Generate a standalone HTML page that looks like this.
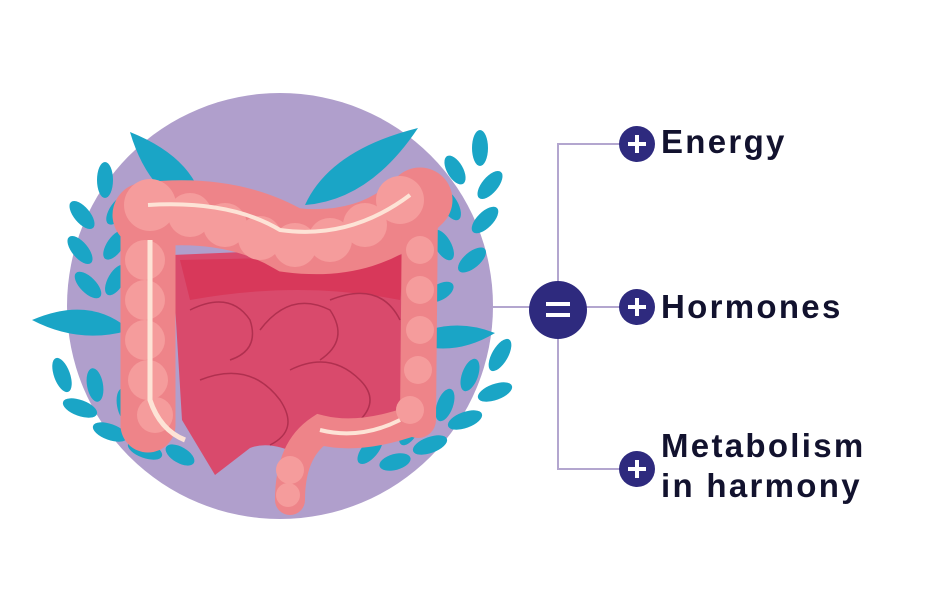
<!DOCTYPE html>
<html><head><meta charset="utf-8"><style>
html,body{margin:0;padding:0;background:#fff;}
body{width:952px;height:613px;position:relative;overflow:hidden;font-family:"Liberation Sans",sans-serif;}
.t{position:absolute;left:661px;font-weight:bold;font-size:33px;color:#12122e;letter-spacing:2.3px;line-height:40px;}
</style></head><body>
<svg width="952" height="613" style="position:absolute;left:0;top:0">
<circle cx="280" cy="306" r="213" fill="#b09fcc"/>
<g stroke="#b3a6cf" stroke-width="2" fill="none">
<line x1="493" y1="307" x2="558" y2="307"/>
<polyline points="637,144 558,144 558,469 637,469"/>
<line x1="558" y1="307" x2="637" y2="307"/>
</g>
<circle cx="558" cy="310" r="29" fill="#2e2a7e"/>
<rect x="546" y="302" width="24" height="4" fill="#fff"/><rect x="546" y="313" width="24" height="4" fill="#fff"/>
<g fill="#2e2a7e"><circle cx="637" cy="144" r="18"/><circle cx="637" cy="307" r="18"/><circle cx="637" cy="469" r="18"/></g>
<g fill="#fff">
<rect x="628" y="142" width="18" height="4"/><rect x="635" y="135" width="4" height="18"/>
<rect x="628" y="305" width="18" height="4"/><rect x="635" y="298" width="4" height="18"/>
<rect x="628" y="467" width="18" height="4"/><rect x="635" y="460" width="4" height="18"/>
</g>
<g fill="#1aa5c6">
<path d="M130,132 Q200,160 205,215 Q150,200 130,132Z"/>
<path d="M418,128 Q330,150 305,205 Q370,200 418,128Z"/>
<path d="M32,320 Q90,295 130,330 Q80,345 32,320Z"/>
<path d="M495,333 Q450,315 405,340 Q450,360 495,333Z"/>
<ellipse cx="105" cy="180" rx="8" ry="18"/><ellipse cx="82" cy="215" rx="8" ry="17" transform="rotate(-40 82 215)"/><ellipse cx="118" cy="210" rx="8" ry="17" transform="rotate(35 118 210)"/>
<ellipse cx="80" cy="250" rx="8" ry="17" transform="rotate(-40 80 250)"/><ellipse cx="115" cy="245" rx="8" ry="17" transform="rotate(35 115 245)"/>
<ellipse cx="88" cy="285" rx="8" ry="17" transform="rotate(-45 88 285)"/><ellipse cx="116" cy="280" rx="8" ry="17" transform="rotate(30 116 280)"/>
<ellipse cx="62" cy="375" rx="8" ry="18" transform="rotate(-20 62 375)"/><ellipse cx="95" cy="385" rx="8" ry="17" transform="rotate(-10 95 385)"/>
<ellipse cx="80" cy="408" rx="8" ry="18" transform="rotate(-70 80 408)"/><ellipse cx="125" cy="405" rx="8" ry="17" transform="rotate(-10 125 405)"/>
<ellipse cx="110" cy="432" rx="8" ry="18" transform="rotate(-70 110 432)"/><ellipse cx="150" cy="425" rx="8" ry="17" transform="rotate(-10 150 425)"/>
<ellipse cx="145" cy="450" rx="8" ry="18" transform="rotate(-70 145 450)"/><ellipse cx="180" cy="455" rx="8" ry="16" transform="rotate(-60 180 455)"/>
<ellipse cx="480" cy="148" rx="8" ry="18"/><ellipse cx="455" cy="170" rx="8" ry="16" transform="rotate(-30 455 170)"/><ellipse cx="490" cy="185" rx="8" ry="17" transform="rotate(40 490 185)"/>
<ellipse cx="450" cy="205" rx="8" ry="17" transform="rotate(-30 450 205)"/><ellipse cx="485" cy="220" rx="8" ry="17" transform="rotate(45 485 220)"/>
<ellipse cx="443" cy="245" rx="8" ry="17" transform="rotate(-30 443 245)"/><ellipse cx="472" cy="260" rx="8" ry="17" transform="rotate(50 472 260)"/>
<ellipse cx="440" cy="292" rx="8" ry="15" transform="rotate(60 440 292)"/>
<ellipse cx="500" cy="355" rx="8" ry="18" transform="rotate(30 500 355)"/><ellipse cx="470" cy="375" rx="8" ry="17" transform="rotate(20 470 375)"/><ellipse cx="495" cy="392" rx="8" ry="18" transform="rotate(70 495 392)"/>
<ellipse cx="445" cy="405" rx="8" ry="17" transform="rotate(20 445 405)"/><ellipse cx="465" cy="420" rx="8" ry="18" transform="rotate(70 465 420)"/>
<ellipse cx="410" cy="430" rx="8" ry="17" transform="rotate(30 410 430)"/><ellipse cx="430" cy="445" rx="8" ry="18" transform="rotate(70 430 445)"/>
<ellipse cx="370" cy="450" rx="8" ry="17" transform="rotate(40 370 450)"/><ellipse cx="395" cy="462" rx="8" ry="16" transform="rotate(75 395 462)"/>
</g>
<path d="M172,255 L412,245 L412,420 L335,428 Q315,450 300,455 Q270,440 250,448 L215,475 L182,420Z" fill="#d94a6c"/>
<path d="M180,260 L405,255 L400,300 Q300,280 190,300Z" fill="#d8385a"/>
<g stroke="#b0304f" stroke-width="1.5" fill="none">
<path d="M190,310 Q230,290 250,320 Q260,350 230,360"/>
<path d="M260,330 Q290,290 330,310 Q350,340 320,360"/>
<path d="M330,300 Q380,280 400,320"/>
<path d="M200,380 Q250,360 280,400 Q300,430 270,445"/>
<path d="M290,370 Q330,350 360,380 Q380,400 360,420"/>
</g>
<g fill="none" stroke="#ee8489" stroke-linecap="round">
<path d="M148,425 L148,225" stroke-width="55"/>
<path d="M145,215 Q230,205 290,240 Q370,250 420,200" stroke-width="65"/>
<path d="M420,205 L418,420" stroke-width="36"/>
<path d="M415,420 Q360,440 320,430 Q290,450 290,500" stroke-width="30"/>
</g>
<g fill="#f59c9c">
<circle cx="150" cy="205" r="26"/><circle cx="190" cy="215" r="22"/><circle cx="225" cy="225" r="22"/><circle cx="260" cy="238" r="22"/><circle cx="295" cy="245" r="22"/><circle cx="330" cy="240" r="22"/><circle cx="365" cy="225" r="22"/><circle cx="400" cy="200" r="24"/>
<circle cx="145" cy="260" r="20"/><circle cx="145" cy="300" r="20"/><circle cx="145" cy="340" r="20"/><circle cx="148" cy="380" r="20"/><circle cx="155" cy="415" r="18"/>
<circle cx="420" cy="250" r="14"/><circle cx="420" cy="290" r="14"/><circle cx="420" cy="330" r="14"/><circle cx="418" cy="370" r="14"/><circle cx="410" cy="410" r="14"/>
<circle cx="290" cy="470" r="14"/><circle cx="288" cy="495" r="12"/>
</g>
<path d="M150,240 L150,400 Q160,430 185,440" stroke="#fde3d6" stroke-width="5" fill="none"/>
<path d="M148,205 Q230,200 280,230 Q350,240 410,195" stroke="#fde3d6" stroke-width="4" fill="none"/>
<path d="M320,430 Q360,440 400,420" stroke="#fde3d6" stroke-width="4" fill="none"/>
</svg>
<div class="t" style="top:122px">Energy</div>
<div class="t" style="top:287px">Hormones</div>
<div class="t" style="top:426px">Metabolism<br>in harmony</div>
</body></html>
